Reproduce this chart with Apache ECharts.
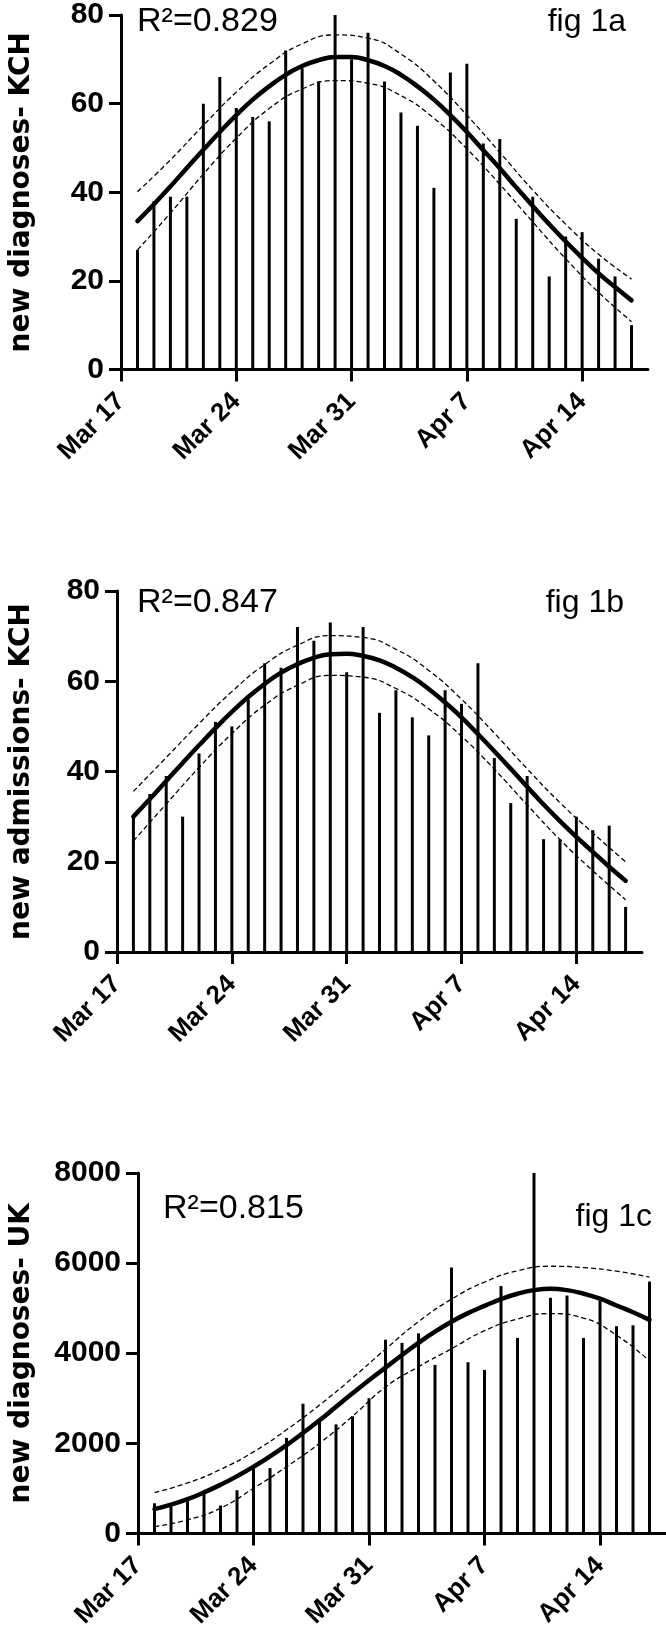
<!DOCTYPE html>
<html>
<head>
<meta charset="utf-8">
<script src="https://cdn.jsdelivr.net/npm/echarts@6/dist/echarts.min.js"></script>
<style>
html,body{margin:0;padding:0;background:#fff;}
#main{width:666px;height:1631px;}
</style>
</head>
<body>
<div id="main"></div>
<script>
// x axis: days since Mar 17
const tickDays = [0, 7, 14, 21, 28];
const tickLabels = ['Mar 17', 'Mar 24', 'Mar 31', 'Apr 7', 'Apr 14'];
const days = [1,2,3,4,5,6,7,8,9,10,11,12,13,14,15,16,17,18,19,20,21,22,23,24,25,26,27,28,29,30,31];
const bandDays = [1,3,5,7,9,11,13,15,17,19,21,23,25,27,29,31];

// fig 1a: new diagnoses - KCH
const barsA = [27,38,39,39,60,66,59,57,56,72,68,65,80,70,76,65,58,55,41,67,69,51,52,34,39,21,30,31,25,21,10];
const fitA = [33.5,37.3,41.3,45.5,49.6,53.6,57.4,60.9,63.9,66.5,68.5,69.8,70.5,70.5,69.8,68.5,66.5,63.9,60.9,57.4,53.6,49.5,45.4,41.1,36.9,32.8,28.9,25.2,21.7,18.6,15.6];
const upperA = [40.1,47.3,55.1,62.6,68.9,73.5,75.5,74.8,71.2,65.1,57.4,49.0,40.5,32.8,26.0,20.4];
const lowerA = [27.0,35.3,44.1,52.2,58.9,63.3,65.2,64.6,61.8,56.7,49.8,41.8,33.3,25.0,17.4,10.8];

// fig 1b: new admissions - KCH
const barsB = [30,35,39,30,44,51,50,56,64,63,72,69,73,62,72,53,58,52,48,58,55,64,43,33,39,25,25,30,27,28,10];
const fitB = [30.0,33.9,37.9,41.9,45.8,49.6,53.2,56.5,59.4,61.9,63.8,65.2,66.0,66.1,65.6,64.6,63.0,60.9,58.3,55.3,52.0,48.3,44.5,40.6,36.6,32.7,29.0,25.5,22.2,18.9,15.8];
const upperB = [35.6,43.1,50.6,57.7,63.7,68.0,70.1,69.7,67.1,62.4,56.0,48.5,40.6,33.1,26.4,20.0];
const lowerB = [24.6,32.8,40.9,48.4,54.7,59.1,61.3,60.9,58.4,53.9,47.8,40.5,32.6,24.9,18.0,11.6];

// fig 1c: new diagnoses - UK
const barsC = [670,600,720,890,620,960,1430,1450,2120,2880,2500,2420,2600,3000,4300,4230,4440,3740,5900,3800,3630,5490,4340,8000,5230,5280,4340,5190,4600,4620,5590];
const fitC = [540,640,760,910,1080,1270,1480,1710,1960,2230,2510,2810,3110,3400,3680,3960,4230,4480,4700,4890,5050,5200,5320,5400,5430,5400,5320,5210,5060,4910,4740];
const upperC = [910,1120,1420,1810,2300,2850,3450,4090,4700,5200,5580,5830,5930,5900,5820,5690];
const lowerC = [150,300,560,1000,1480,2000,2600,3250,3700,4100,4500,4760,4880,4780,4400,3830];

const panelNames = ['new diagnoses- KCH', 'new admissions- KCH', 'new diagnoses- UK'];
const r2Labels = ['R²=0.829', 'R²=0.847', 'R²=0.815'];
const figLabels = ['fig 1a', 'fig 1b', 'fig 1c'];
const yMax = [80, 80, 8000];
const yStep = [20, 20, 2000];

const FONT = '"Liberation Sans", Arial, Helvetica, sans-serif';
const NAMEFONT = '"DejaVu Sans", "Liberation Sans", Arial, sans-serif';
const grids = [
  {left: 103, top: 10.5, width: 545, height: 359},
  {left: 98, top: 591, width: 544, height: 361},
  {left: 122, top: 1173, width: 544, height: 362}
];
const nameGaps = [85, 81, 102];

const pairs = (xs, ys) => xs.map((x, i) => [x, ys[i]]);

const xAxes = grids.map((g, i) => ({
  type: 'value', gridIndex: i, min: 0, max: 32,
  axisLine: {show: true, onZero: false, lineStyle: {color: '#000', width: 3}},
  axisTick: {show: true, length: 12, lineStyle: {color: '#000', width: 3}, customValues: tickDays},
  axisLabel: {
    customValues: tickDays, rotate: 45, margin: 28, color: '#000',
    fontFamily: FONT, fontWeight: 'bold', fontSize: 26,
    formatter: v => tickLabels[tickDays.indexOf(v)] || ''
  },
  splitLine: {show: false}
}));

const yAxes = grids.map((g, i) => ({
  type: 'value', gridIndex: i, min: 0, max: yMax[i], interval: yStep[i],
  name: panelNames[i], nameLocation: 'middle', nameGap: nameGaps[i], nameRotate: 90,
  nameTextStyle: {color: '#000', fontFamily: NAMEFONT, fontWeight: 'bold', fontSize: 28},
  axisLine: {show: true, lineStyle: {color: '#000', width: 3}},
  axisTick: {show: true, length: 12, lineStyle: {color: '#000', width: 3}},
  axisLabel: {margin: 17, color: '#000', fontFamily: FONT, fontWeight: 'bold', fontSize: 30,
    formatter: v => String(v)},
  splitLine: {show: false}
}));

const panelData = [
  [barsA, fitA, upperA, lowerA],
  [barsB, fitB, upperB, lowerB],
  [barsC, fitC, upperC, lowerC]
];

const series = [];
panelData.forEach((p, i) => {
  series.push({
    type: 'bar', xAxisIndex: i, yAxisIndex: i, barWidth: 3, silent: true,
    itemStyle: {color: '#000'}, data: pairs(days, p[0]), animation: false
  });
  series.push({
    type: 'line', xAxisIndex: i, yAxisIndex: i, smooth: true, symbol: 'none', silent: true,
    lineStyle: {color: '#000', width: 4.5, cap: 'round'}, data: pairs(days, p[1]), animation: false, z: 5
  });
  [p[2], p[3]].forEach(band => {
    series.push({
      type: 'line', xAxisIndex: i, yAxisIndex: i, smooth: true, symbol: 'none', silent: true,
      lineStyle: {color: '#000', width: 1.3, type: [5, 3]}, data: pairs(bandDays, band), animation: false, z: 4
    });
  });
});

const r2Pos = [[137, 22], [137, 603], [163, 1209]];
const figPos = [[626, 22], [624, 603], [652, 1217]];
const graphic = [];
r2Pos.forEach((pos, i) => {
  graphic.push({type: 'text', x: pos[0], y: pos[1], z: 10,
    style: {text: r2Labels[i], fill: '#000', font: '34px ' + FONT, textAlign: 'left', textVerticalAlign: 'middle'}});
  graphic.push({type: 'text', x: figPos[i][0], y: figPos[i][1], z: 10,
    style: {text: figLabels[i], fill: '#000', font: '32px ' + FONT, textAlign: 'right', textVerticalAlign: 'middle'}});
});

const chart = echarts.init(document.getElementById('main'), null, {renderer: 'canvas'});
chart.setOption({
  backgroundColor: '#fff',
  animation: false,
  grid: grids,
  xAxis: xAxes,
  yAxis: yAxes,
  series: series,
  graphic: graphic
});
</script>
</body>
</html>
